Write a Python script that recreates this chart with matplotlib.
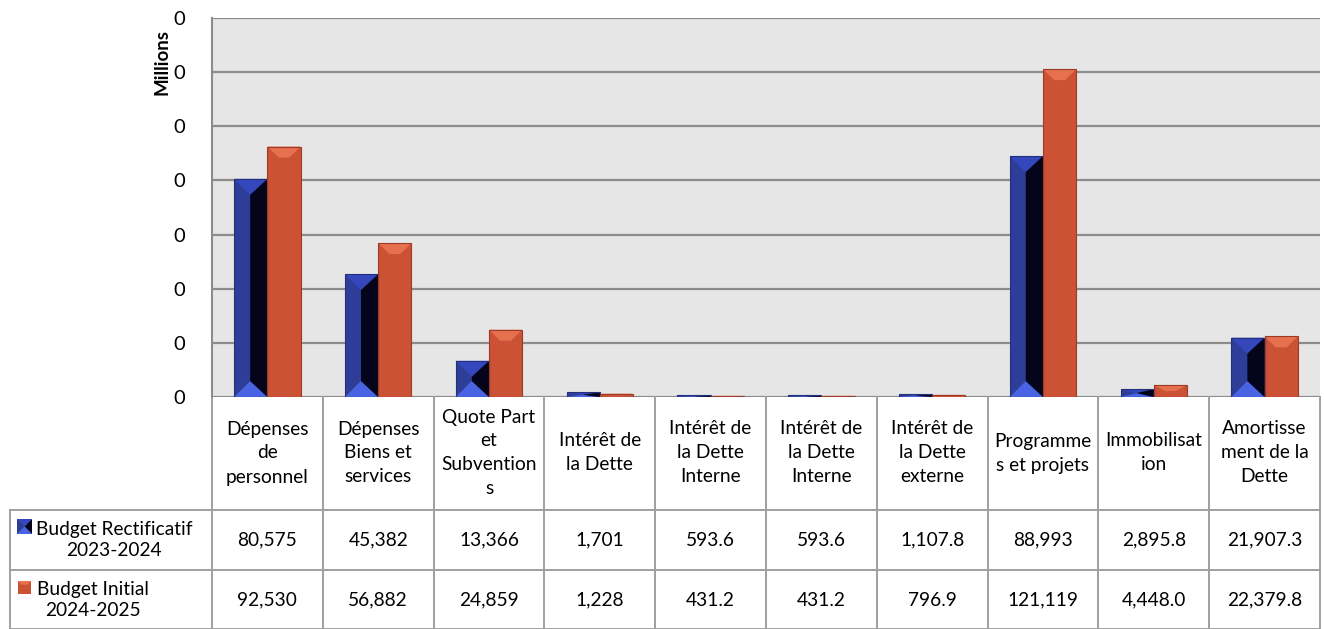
import matplotlib
matplotlib.use("Agg")
import matplotlib.pyplot as plt
from matplotlib.patches import Polygon, Rectangle
from matplotlib.lines import Line2D
from matplotlib.transforms import blended_transform_factory

categories = ["Dépenses\nde\npersonnel", "Dépenses\nBiens et\nservices",
              "Quote Part\net\nSubvention\ns", "Intérêt de\nla Dette",
              "Intérêt de\nla Dette\nInterne", "Intérêt de\nla Dette\nInterne",
              "Intérêt de\nla Dette\nexterne", "Programme\ns et projets",
              "Immobilisat\nion", "Amortisse\nment de la\nDette"]
series_names = ["Budget Rectificatif\n2023-2024", "Budget Initial\n2024-2025"]
rectif = [80575, 45382, 13366, 1701, 593.6, 593.6, 1107.8, 88993, 2895.8, 21907.3]
initial = [92530, 56882, 24859, 1228, 431.2, 431.2, 796.9, 121119, 4448.0, 22379.8]
rectif_labels = ["80,575", "45,382", "13,366", "1,701", "593.6", "593.6",
                 "1,107.8", "88,993", "2,895.8", "21,907.3"]
initial_labels = ["92,530", "56,882", "24,859", "1,228", "431.2", "431.2",
                  "796.9", "121,119", "4,448.0", "22,379.8"]
yticks = [0, 20000, 40000, 60000, 80000, 100000, 120000, 140000]
ytick_labels = ["0"] * len(yticks)

FONT = "Lato"
FS = 13.8
W, H = 1324, 629
fig = plt.figure(figsize=(W / 100, H / 100), dpi=100)
L, R, T, B = 212, 1320, 18, 397
ax = fig.add_axes([L / W, 1 - B / H, (R - L) / W, (B - T) / H])
ax.set_facecolor("#E6E6E6")
n = len(categories)
ax.set_xlim(-0.5, n - 0.5)
ax.set_ylim(0, 140000)
ax.set_yticks(yticks)
ax.set_yticklabels(ytick_labels, fontsize=14.5, family=FONT)
ax.tick_params(axis="y", length=0, pad=19)
ax.set_xticks([])
for s in ["top", "right", "bottom"]:
    ax.spines[s].set_visible(False)
ax.spines["left"].set_color("#8C8C8C")
ax.spines["left"].set_linewidth(1.5)
for t in yticks:
    ax.axhline(t, color="#8C8C8C", lw=1.6, zorder=1)
fig.text(162 / W, 1 - 62 / H, "Millions", rotation=90, ha="center", va="center",
         fontsize=13.5, fontweight="bold", family=FONT)

# pixel -> data scales
px_x = (n) / (R - L)
px_y = 140000 / (B - T)
bw = 0.3
bev = 16

def blue_bar(x0, h):
    x1 = x0 + bw
    d = min(bev * px_y, h / 2)
    xi = x0 + bev * px_x
    ax.add_patch(Rectangle((x0, 0), bw, h, facecolor="#2E3E98", edgecolor="none", zorder=3))
    ax.add_patch(Polygon([(x0, h), (x1, h), (xi, h - d)], closed=True,
                         facecolor="#3447BC", edgecolor="none", zorder=4))
    ax.add_patch(Polygon([(x0, 0), (x1, 0), (xi, d)], closed=True,
                         facecolor="#4A63E2", edgecolor="none", zorder=4))
    ax.add_patch(Polygon([(xi, h - d), (x1, h), (x1, 0), (xi, d)], closed=True,
                         facecolor="#04051A", edgecolor="none", zorder=4))
    ax.add_patch(Rectangle((x0, 0), bw, h, facecolor="none", edgecolor="#23307A",
                           lw=0.8, zorder=5))

def orange_bar(x0, h):
    x1 = x0 + bw
    d = min(11 * px_y, h / 2)
    xi = bev * px_x * 0.7
    ax.add_patch(Rectangle((x0, 0), bw, h, facecolor="#CC5236", edgecolor="none", zorder=3))
    ax.add_patch(Polygon([(x0, h), (x1, h), (x1 - xi, h - d), (x0 + xi, h - d)], closed=True,
                         facecolor="#E5714F", edgecolor="none", zorder=4))
    ax.add_patch(Rectangle((x0, 0), bw, h, facecolor="none", edgecolor="#9C3A26",
                           lw=0.8, zorder=5))

for i in range(n):
    blue_bar(i - bw, rectif[i])
    orange_bar(i, initial[i])

# table
tr = blended_transform_factory(ax.transData, ax.transAxes)
def ya(ypix):
    return (B - ypix) / (B - T)
def xd(xpix):
    return -0.5 + (xpix - L) * px_x

gc = "#A0A0A0"
rows_y = [B, 510, 570, 629]
for i in range(n + 1):
    ax.add_line(Line2D([i - 0.5, i - 0.5], [ya(B), ya(629)], transform=tr, color=gc,
                       lw=1.4, clip_on=False))
for yy in rows_y[1:]:
    ax.add_line(Line2D([xd(10), n - 0.5], [ya(yy), ya(yy)], transform=tr, color=gc,
                       lw=1.4, clip_on=False))
ax.add_line(Line2D([xd(10), xd(10)], [ya(510), ya(629)], transform=tr, color=gc,
                   lw=1.4, clip_on=False))

for i in range(n):
    ax.text(i, ya(453), categories[i], transform=tr, ha="center", va="center",
            fontsize=FS, family=FONT, linespacing=1.5, clip_on=False)
    ax.text(i, ya(540), rectif_labels[i], transform=tr, ha="center", va="center",
            fontsize=FS, family=FONT, clip_on=False)
    ax.text(i, ya(600), initial_labels[i], transform=tr, ha="center", va="center",
            fontsize=FS, family=FONT, clip_on=False)

# row labels
ax.text(xd(114), ya(540), series_names[0], transform=tr, ha="center", va="center",
        fontsize=FS, family=FONT, linespacing=1.25, multialignment="center", clip_on=False)
ax.text(xd(93), ya(600), series_names[1], transform=tr, ha="center", va="center",
        fontsize=FS, family=FONT, linespacing=1.25, multialignment="center", clip_on=False)

# legend keys
def key(x0p, y0p, sz, color):
    x0, x1 = xd(x0p), xd(x0p + sz)
    y0, y1 = ya(y0p + sz), ya(y0p)
    ax.add_patch(Rectangle((x0, y0), x1 - x0, y1 - y0, transform=tr, facecolor=color,
                           edgecolor="none", clip_on=False))
    return x0, x1, y0, y1

x0, x1, y0, y1 = key(17, 519, 15, "#2E3E98")
xm = (x0 + x1) / 2
ym = (y0 + y1) / 2
ax.add_patch(Polygon([(xm, ym), (x1, y1), (x1, y0)], closed=True, transform=tr,
                     facecolor="#04051A", edgecolor="none", clip_on=False))
ax.add_patch(Polygon([(x0, y1), (x1, y1), (xm, ym)], closed=True, transform=tr,
                     facecolor="#3447BC", edgecolor="none", clip_on=False))
ax.add_patch(Polygon([(x0, y0), (x1, y0), (xm, ym)], closed=True, transform=tr,
                     facecolor="#4A63E2", edgecolor="none", clip_on=False))
x0, x1, y0, y1 = key(18, 581, 13, "#CC5236")
ax.add_patch(Polygon([(x0, y1), (x1, y1), (x1 - 0.03, y1 - 0.01), (x0 + 0.03, y1 - 0.01)],
                     closed=True, transform=tr, facecolor="#E5714F", edgecolor="none",
                     clip_on=False))

fig.savefig("out.png", dpi=100, facecolor="white")
